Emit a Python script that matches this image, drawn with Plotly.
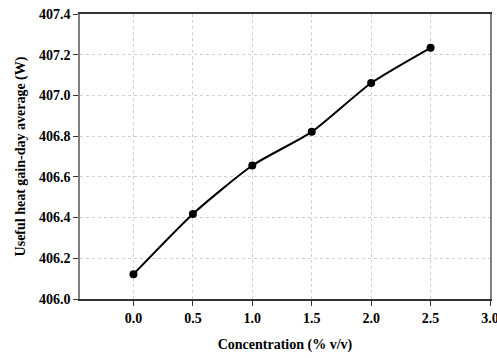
import plotly.graph_objects as go

concentration = [0.0, 0.5, 1.0, 1.5, 2.0, 2.5]
heat_gain = [406.122, 406.418, 406.656, 406.821, 407.061, 407.234]

font_family = "Liberation Serif"

fig = go.Figure()
fig.add_trace(go.Scatter(
    x=concentration, y=heat_gain, mode="lines+markers",
    line=dict(color="black", width=2, shape="spline", smoothing=0.6),
    marker=dict(color="black", size=8),
    showlegend=False,
))

fig.update_layout(
    width=497, height=358,
    margin=dict(l=80, r=7, t=14, b=59),
    paper_bgcolor="white", plot_bgcolor="white",
    font=dict(family=font_family, size=14, color="black"),
    xaxis=dict(
        range=[-0.45, 3.0], tick0=0, dtick=0.5, tickformat=".1f",
        automargin=False, ticklabeloverflow="allow",
        showgrid=True, gridcolor="#d0d0d0", griddash="dot", gridwidth=1,
        zeroline=False, showline=True, linecolor="#333333", linewidth=1.5, mirror=True,
        ticks="outside", ticklen=5, tickcolor="#333333",
        tickfont=dict(family=font_family, size=14, color="black", weight="bold"),
        title=dict(text="<b>Concentration (% v/v)</b>", standoff=15,
                   font=dict(family=font_family, size=14, color="black")),
    ),
    yaxis=dict(
        range=[406.0, 407.4], tick0=406.0, dtick=0.2, tickformat=".1f",
        automargin=False, ticklabeloverflow="allow",
        showgrid=True, gridcolor="#d0d0d0", griddash="dot", gridwidth=1,
        zeroline=False, showline=True, linecolor="#808080", linewidth=1.5, mirror=True,
        ticks="outside", ticklen=5, tickcolor="#333333",
        tickfont=dict(family=font_family, size=14, color="black", weight="bold"),
        title=dict(text="<b>Useful heat gain-day average (W)</b>", standoff=10,
                   font=dict(family=font_family, size=14, color="black")),
    ),
)

fig.write_html("out.html", config={"displayModeBar": False},
               post_script="document.body.style.margin='0';")
